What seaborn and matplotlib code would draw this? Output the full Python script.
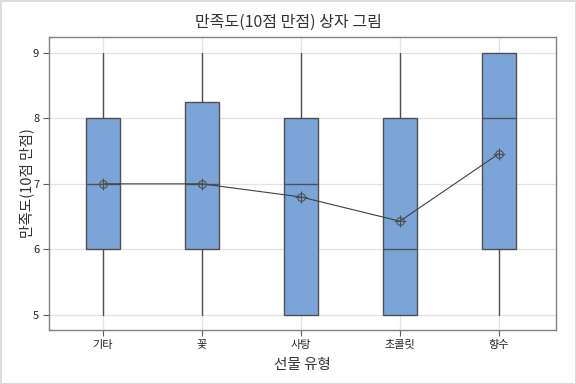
import matplotlib
matplotlib.use("Agg")
import matplotlib.pyplot as plt
import seaborn as sns
import numpy as np

categories = ["기타", "꽃", "사탕", "초콜릿", "향수"]
whisker_low = [5, 5, 5, 5, 5]
q1 = [6, 6, 5, 5, 6]
medians = [7, 7, 7, 6, 8]
q3 = [8, 8.25, 8, 8, 9]
whisker_high = [9, 9, 9, 9, 9]
means = [7.0, 7.0, 6.8, 6.43, 7.46]
yticks = [5, 6, 7, 8, 9]

sns.set_style("white")
plt.rcParams['font.family'] = ['Noto Sans CJK KR', 'DejaVu Sans']

fig = plt.figure(figsize=(5.76, 3.84), dpi=100, linewidth=2, edgecolor='#dcdcdc')
ax = fig.add_axes([0.085, 0.141, 0.880, 0.763])

pos = np.arange(len(categories))
stats = []
for i, c in enumerate(categories):
    stats.append(dict(label=c, whislo=whisker_low[i], q1=q1[i], med=medians[i],
                      q3=q3[i], whishi=whisker_high[i], fliers=[]))

edge = '#505050'
ax.bxp(stats, positions=pos, widths=0.34, patch_artist=True, showcaps=False,
       showfliers=False, manage_ticks=False,
       boxprops=dict(facecolor='#7BA5D8', edgecolor=edge, linewidth=1.0),
       medianprops=dict(color=edge, linewidth=1.0),
       whiskerprops=dict(color=edge, linewidth=1.0), zorder=2)

sns.lineplot(x=pos, y=means, ax=ax, color='#404040', linewidth=0.8, zorder=3,
             marker='o', markersize=5.5, markerfacecolor='none',
             markeredgecolor='#505050', markeredgewidth=0.8)
ax.scatter(pos, means, marker='+', s=70, color='#505050', linewidths=0.8, zorder=4)

ax.set_xlim(-0.545, 4.576)
ax.set_ylim(4.771, 9.244)
ax.set_xticks(pos)
ax.set_xticklabels(categories)
ax.set_yticks(yticks)
ax.grid(True, color='#e3e3e3', linewidth=0.9, zorder=0)
ax.set_axisbelow(True)
for s in ax.spines.values():
    s.set_color('#808080')
    s.set_linewidth(1.0)
ax.tick_params(axis='both', which='both', direction='out', length=4, width=0.8,
               color='#606060', labelsize=8, labelcolor='#222222', pad=3)
ax.tick_params(left=True, bottom=True)

ax.set_xlabel("선물 유형", fontsize=10.5, color='#333333', labelpad=6)
ax.set_ylabel("만족도(10점 만점)", fontsize=10.5, color='#333333')
ax.yaxis.set_label_coords(-0.03, 0.5)
fig.suptitle("만족도(10점 만점) 상자 그림", fontsize=11.5, color='#333333', y=0.965)

fig.savefig("out.png", dpi=100, edgecolor=fig.get_edgecolor())
